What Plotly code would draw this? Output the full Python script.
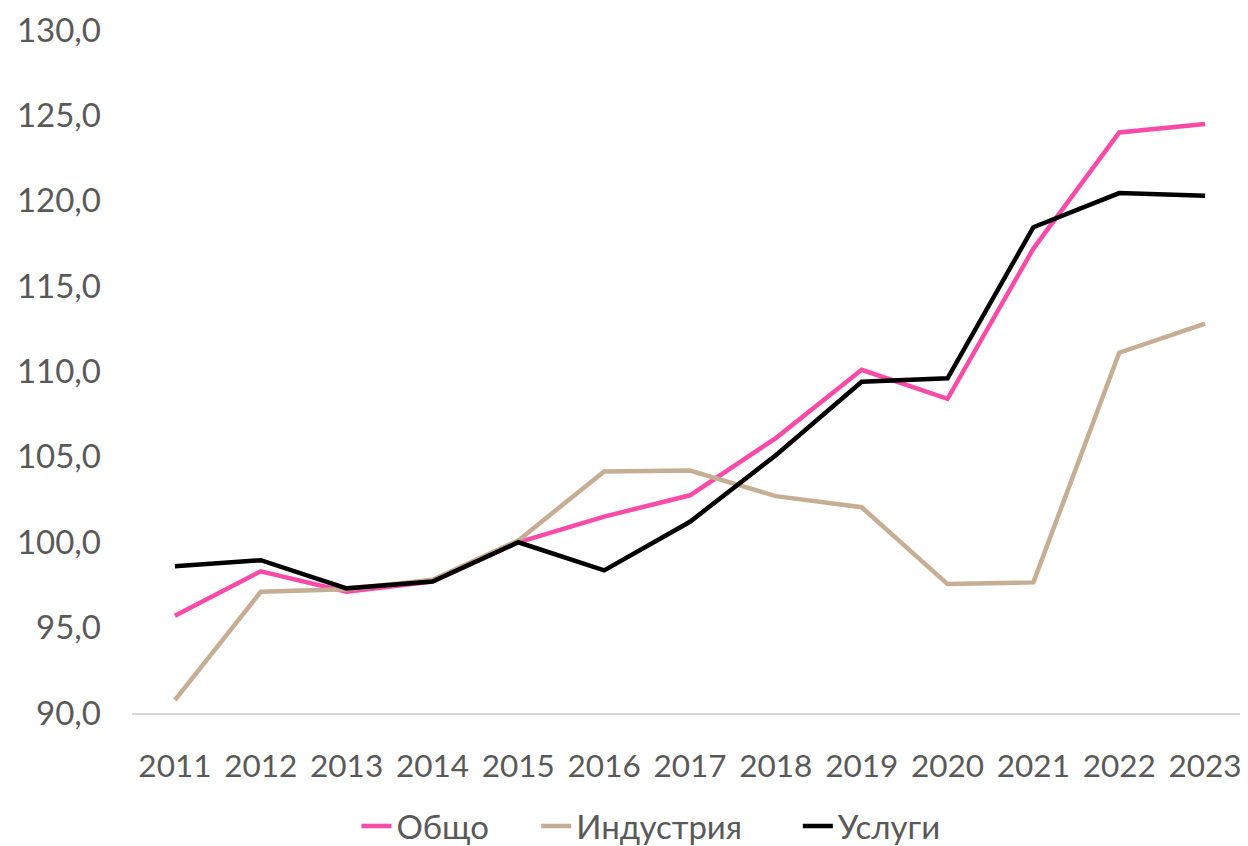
import plotly.graph_objects as go

years = ["2011", "2012", "2013", "2014", "2015", "2016", "2017", "2018", "2019", "2020", "2021", "2022", "2023"]
obshto = [95.7, 98.3, 97.1, 97.7, 100.0, 101.5, 102.75, 106.1, 110.1, 108.4, 117.2, 124.0, 124.5]
industriya = [90.75, 97.1, 97.25, 97.8, 100.1, 104.15, 104.2, 102.7, 102.05, 97.55, 97.65, 111.1, 112.8]
uslugi = [98.6, 98.95, 97.3, 97.7, 100.0, 98.35, 101.2, 105.1, 109.4, 109.6, 118.45, 120.45, 120.3]

names = ["Общо", "Индустрия", "Услуги"]
legend_pad = ["\u00a0" * 5, "\u00a0" * 6, ""]
colors = ["#F84BA8", "#C5AE93", "#000000"]

fig = go.Figure()
for name, pad, vals, col in zip(names, legend_pad, [obshto, industriya, uslugi], colors):
    fig.add_trace(go.Scatter(x=years, y=vals, name=name + pad, mode="lines",
                             line=dict(color=col, width=4.5)))

font_fam = "Lato, 'Open Sans', sans-serif"
fig.update_layout(
    width=1240, height=838,
    paper_bgcolor="white", plot_bgcolor="white",
    margin=dict(l=124, r=0, t=22, b=133, autoexpand=False),
    separators=",.",
    font=dict(family=font_fam, size=33, color="#595959"),
    showlegend=True,
    legend=dict(orientation="h", x=0.465, xanchor="center", y=-0.1655, yanchor="middle",
                font=dict(size=33, color="#595959"), tracegroupgap=0),
    xaxis=dict(type="category", showgrid=False, showline=True, linecolor="#D9D9D9",
               linewidth=1.5, ticks="", tickfont=dict(size=31.5, color="#595959"),
               range=[-0.5, 12.5], ticklabelstandoff=24),
    yaxis=dict(range=[90, 130], dtick=5, tickformat=".1f", showgrid=False,
               zeroline=False, showline=False, ticks="",
               tickfont=dict(size=33, color="#595959"), ticklabelstandoff=30),
)
fig.write_html("out.html")
